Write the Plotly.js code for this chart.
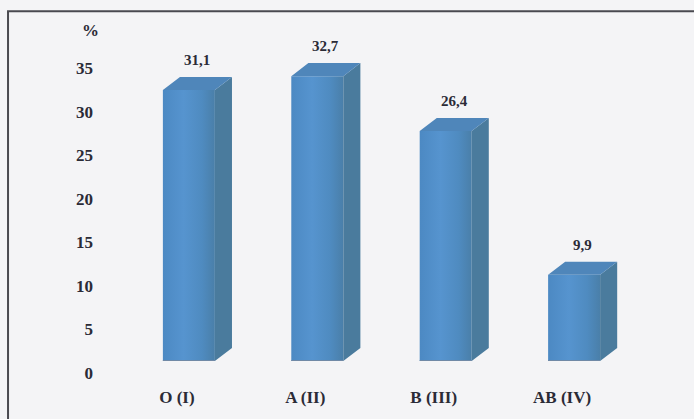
<!DOCTYPE html>
<html>
<head>
<meta charset="utf-8">
<script src="https://cdn.plot.ly/plotly-3.0.1.min.js"></script>
<style>
  html, body { margin: 0; padding: 0; background: #f4f4f6; }
  #chart { width: 694px; height: 419px; }
</style>
</head>
<body>
<div id="chart"></div>
<script>
// Blood group distribution, %
const categories = ['O (I)', 'A (II)', 'B (III)', 'AB (IV)'];
const values = [31.1, 32.7, 26.4, 9.9];
const yTicks = [0, 5, 10, 15, 20, 25, 30, 35];

// Pseudo-3D column geometry (in axis units)
const FRONT_W = 0.405;   // front face width
const DEPTH_X = 0.133;   // receding depth, horizontal
const DEPTH_Y = 1.5;     // receding depth, vertical

const fmt = v => v.toFixed(1).replace('.', ',');

const traces = [];
const sideX = [], sideY = [], topX = [], topY = [];

values.forEach((v, i) => {
  const l = i - FRONT_W / 2, r = i + FRONT_W / 2;
  // front face with horizontal shading
  traces.push({
    type: 'scatter', mode: 'lines',
    x: [l, r, r, l, l], y: [0, 0, v, v, 0],
    fill: 'toself', line: { width: 0 },
    fillgradient: {
      type: 'horizontal',
      colorscale: [[0, '#4c89c3'], [0.4, '#5694cf'], [0.75, '#4f8bc0'], [1, '#4a7fa9']]
    },
    hoverinfo: 'skip', showlegend: false
  });
  // right side face
  sideX.push(r, r + DEPTH_X, r + DEPTH_X, r, r, null);
  sideY.push(0, DEPTH_Y, v + DEPTH_Y, v, 0, null);
  // top face
  topX.push(l, l + DEPTH_X, r + DEPTH_X, r, l, null);
  topY.push(v, v + DEPTH_Y, v + DEPTH_Y, v, v, null);
});

traces.push({
  type: 'scatter', mode: 'lines', x: sideX, y: sideY,
  fill: 'toself', fillcolor: '#4a7b9d', line: { width: 0 },
  hoverinfo: 'skip', showlegend: false
});
traces.push({
  type: 'scatter', mode: 'lines', x: topX, y: topY,
  fill: 'toself', fillcolor: '#4f86ba', line: { width: 0 },
  hoverinfo: 'skip', showlegend: false
});
// base shadow under each column
const baseX = [], baseY = [];
values.forEach((v, i) => {
  baseX.push(i - FRONT_W / 2, i + FRONT_W / 2, null);
  baseY.push(0, 0, null);
});
traces.push({
  type: 'scatter', mode: 'lines', x: baseX, y: baseY,
  line: { color: '#7089a6', width: 2 },
  hoverinfo: 'skip', showlegend: false, cliponaxis: false
});

const SERIF = '"Liberation Serif", "Times New Roman", "DejaVu Serif", serif';
const labelFont = { family: SERIF, size: 17, color: '#2b2b36' };

const annotations = values.map((v, i) => ({
  x: i + DEPTH_X / 2, y: v + DEPTH_Y, xref: 'x', yref: 'y',
  text: '<b>' + fmt(v) + '</b>', showarrow: false,
  yanchor: 'middle', yshift: 17,
  font: { family: SERIF, size: 15, color: '#2b2b36' }
}));
annotations.push({
  x: 0, y: 1, xref: 'paper', yref: 'paper', xanchor: 'right', yanchor: 'middle',
  xshift: 2, yshift: 0,
  text: '<b>%</b>', showarrow: false, font: labelFont
});

const layout = {
  width: 694, height: 419,
  margin: { l: 99, r: 30, t: 30, b: 58 },
  paper_bgcolor: '#f4f4f6', plot_bgcolor: 'rgba(0,0,0,0)',
  font: labelFont,
  xaxis: {
    range: [-0.7, 3.7], tickmode: 'array',
    tickvals: categories.map((c, i) => i),
    ticktext: categories.map(c => '<b>' + c + '</b>'),
    showgrid: false, zeroline: false, showline: false, ticks: '',
    ticklabelshift: -12, ticklabelstandoff: 24, fixedrange: true
  },
  yaxis: {
    range: [0, 38], tickmode: 'array', tickvals: yTicks,
    ticktext: yTicks.map(t => '<b>' + t + '</b>'),
    showgrid: false, zeroline: false, showline: false, ticks: '',
    ticklabelshift: 12, ticklabelstandoff: 5, fixedrange: true
  },
  shapes: [{
    type: 'rect', xref: 'paper', yref: 'paper',
    x0: -0.161, x1: 1.3, y0: -0.4, y1: 1.057,
    line: { color: '#4a4a50', width: 2 }, fillcolor: 'rgba(0,0,0,0)', layer: 'below'
  }],
  annotations: annotations,
  showlegend: false
};

Plotly.newPlot('chart', traces, layout, { displayModeBar: false, staticPlot: true });
</script>
</body>
</html>
